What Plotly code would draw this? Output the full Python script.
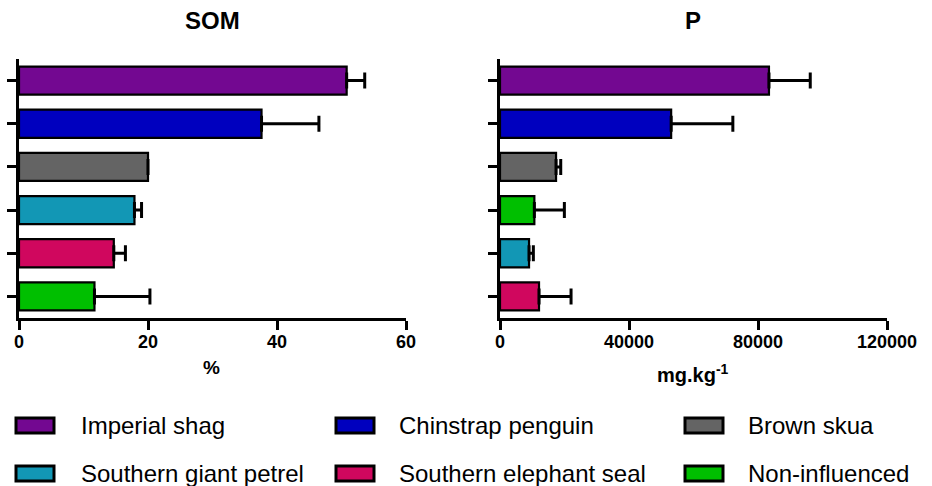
import plotly.graph_objects as go

W, H = 932, 486

# ---- data ----
som_groups = ["Imperial shag", "Chinstrap penguin", "Brown skua",
              "Southern giant petrel", "Southern elephant seal", "Non-influenced"]
som_mean = [50.8, 37.6, 20.0, 17.9, 14.7, 11.7]
som_err = [2.8, 8.9, 0.0, 1.1, 1.8, 8.6]

p_groups = ["Imperial shag", "Chinstrap penguin", "Brown skua",
            "Non-influenced", "Southern giant petrel", "Southern elephant seal"]
p_mean = [83400, 53070, 17380, 10650, 9000, 12100]
p_err = [12800, 19130, 1450, 9310, 1340, 9930]

som_ticks = [0, 20, 40, 60]
p_ticks = [0, 40000, 80000, 120000]

legend_order = ["Imperial shag", "Chinstrap penguin", "Brown skua",
                "Southern giant petrel", "Southern elephant seal", "Non-influenced"]
colors = {
    "Imperial shag": "#730891",
    "Chinstrap penguin": "#0000BF",
    "Brown skua": "#646464",
    "Southern giant petrel": "#1297B5",
    "Southern elephant seal": "#D0075E",
    "Non-influenced": "#00BF00",
}

FONT = "Liberation Sans, Arial, sans-serif"


def px_x(x):
    return x / W


def px_y(y):
    return 1 - y / H


fig = go.Figure()

fig.add_trace(go.Bar(
    y=som_groups, x=som_mean, orientation="h", width=0.65,
    marker=dict(color=[colors[g] for g in som_groups], line=dict(color="black", width=2.2)),
    error_x=dict(type="data", symmetric=False, array=som_err, arrayminus=[0] * len(som_err),
                 color="black", thickness=3, width=8),
    xaxis="x", yaxis="y", showlegend=False,
))
fig.add_trace(go.Bar(
    y=p_groups, x=p_mean, orientation="h", width=0.65,
    marker=dict(color=[colors[g] for g in p_groups], line=dict(color="black", width=2.2)),
    error_x=dict(type="data", symmetric=False, array=p_err, arrayminus=[0] * len(p_err),
                 color="black", thickness=3, width=8),
    xaxis="x2", yaxis="y2", showlegend=False,
))

ydom = [px_y(318), px_y(59)]
axis_common = dict(showline=True, linecolor="black", linewidth=2.5, ticks="outside",
                   ticklen=9, tickwidth=2.5, tickcolor="black", showgrid=False,
                   zeroline=False, automargin=False)
tickfont = dict(family=FONT, size=18, color="black", weight="bold")

fig.update_layout(
    width=W, height=H,
    margin=dict(l=0, r=0, t=0, b=0),
    paper_bgcolor="white", plot_bgcolor="white",
    bargap=0.35,
    xaxis=dict(domain=[px_x(19), px_x(406)], range=[0, 60], tickvals=som_ticks,
               anchor="y", tickfont=tickfont, ticklabelstandoff=-3, **axis_common),
    yaxis=dict(domain=ydom, range=[5.5, -0.5], type="category",
               categoryorder="array", categoryarray=som_groups,
               showticklabels=False, anchor="x", **axis_common),
    xaxis2=dict(domain=[px_x(500), px_x(887)], range=[0, 120000], tickvals=p_ticks,
                tickformat="d", anchor="y2", tickfont=tickfont, ticklabelstandoff=-3,
                **axis_common),
    yaxis2=dict(domain=ydom, range=[5.5, -0.5], type="category",
                categoryorder="array", categoryarray=p_groups,
                showticklabels=False, anchor="x2", **axis_common),
)

ann = []
# titles
ann.append(dict(text="SOM", x=px_x(212), y=px_y(21), xref="paper", yref="paper",
                showarrow=False, xanchor="center", yanchor="middle",
                font=dict(family=FONT, size=24, color="black", weight="bold")))
ann.append(dict(text="P", x=px_x(693), y=px_y(21), xref="paper", yref="paper",
                showarrow=False, xanchor="center", yanchor="middle",
                font=dict(family=FONT, size=24, color="black", weight="bold")))
# axis titles
ann.append(dict(text="%", x=px_x(211), y=px_y(367), xref="paper", yref="paper",
                showarrow=False, xanchor="center", yanchor="middle",
                font=dict(family=FONT, size=19, color="black", weight="bold")))
ann.append(dict(text="mg.kg<sup>-1</sup>", x=px_x(693), y=px_y(373), xref="paper", yref="paper",
                showarrow=False, xanchor="center", yanchor="middle",
                font=dict(family=FONT, size=20, color="black", weight="bold")))

# legend (drawn as shapes + text)
sym_x = [16, 336, 685]
txt_x = [79, 397, 746]
row_y = [425.5, 473.5]
shapes = []
for i, g in enumerate(legend_order):
    r, c = divmod(i, 3)
    x0 = sym_x[c]
    yc = row_y[r]
    shapes.append(dict(type="rect", xref="paper", yref="paper",
                       x0=px_x(x0), x1=px_x(x0 + 38), y0=px_y(yc + 7.5), y1=px_y(yc - 7.5),
                       fillcolor=colors[g], line=dict(color="black", width=3)))
    ann.append(dict(text=g, x=px_x(txt_x[c]), y=px_y(yc), xref="paper", yref="paper",
                    showarrow=False, xanchor="left", yanchor="middle",
                    font=dict(family=FONT, size=24, color="black")))

fig.update_layout(annotations=ann, shapes=shapes)

fig.write_html(
    "out.html",
    config={"displayModeBar": False},
    post_script="document.body.style.margin='0';document.body.style.overflow='hidden';",
)
